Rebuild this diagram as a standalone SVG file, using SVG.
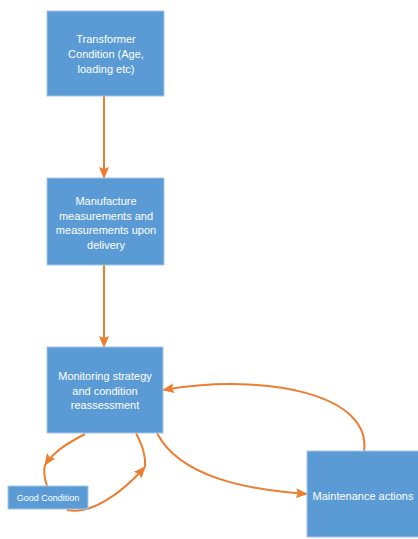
<svg xmlns="http://www.w3.org/2000/svg" width="418" height="539" viewBox="0 0 418 539">
<defs>
<marker id="ah" markerWidth="12" markerHeight="10" refX="11" refY="5" orient="auto" markerUnits="userSpaceOnUse">
<path d="M0,0 L12,5 L0,10 L2,5 Z" fill="#ED7D31"/>
</marker>
</defs>
<style>
.box{fill:#5B9BD5;stroke:#A8C5E6;stroke-width:1}
.t{font-family:"Liberation Sans",Arial,sans-serif;font-size:11px;fill:#ffffff;text-anchor:middle}
.c{fill:none;stroke:#ED7D31;stroke-width:2}
</style>
<rect width="418" height="539" fill="#ffffff"/>
<g id="connectors">
<path class="c" d="M104,96 L104,178" marker-end="url(#ah)"/>
<path class="c" d="M104,265 L104,347" marker-end="url(#ah)"/>
<path class="c" d="M157,433 C180,478 250,490 307,494" marker-end="url(#ah)"/>
<path class="c" d="M364,451 C372,396 270,372 163,390" marker-end="url(#ah)"/>
<path class="c" d="M85,434 C70,442 55,450 45,465" marker-end="url(#ah)"/>
<path class="c" d="M45,465 C43,472 45,480 47,486"/>
<path class="c" d="M67,510 C90,515 120,495 145,467" marker-end="url(#ah)"/>
<path class="c" d="M136,433 C142,445 146,455 145,467"/>
</g>
<g id="transformer">
<rect class="box" x="47" y="11" width="117" height="85"/>
<text class="t" x="106" y="43">Transformer</text>
<text class="t" x="106" y="58">Condition (Age,</text>
<text class="t" x="106" y="73">loading etc)</text>
</g>
<g id="manufacture">
<rect class="box" x="47" y="178" width="117" height="87"/>
<text class="t" x="106" y="205">Manufacture</text>
<text class="t" x="106" y="219.5">measurements and</text>
<text class="t" x="106" y="234">measurements upon</text>
<text class="t" x="106" y="248.5">delivery</text>
</g>
<g id="monitoring">
<rect class="box" x="47" y="347" width="116" height="86"/>
<text class="t" x="105" y="380">Monitoring strategy</text>
<text class="t" x="105" y="395">and condition</text>
<text class="t" x="105" y="409">reassessment</text>
</g>
<g id="good">
<rect class="box" x="8" y="486" width="80" height="23"/>
<text class="t" x="48" y="501" style="font-size:9px">Good Condition</text>
</g>
<g id="maintenance">
<rect class="box" x="307" y="451" width="112" height="86"/>
<text class="t" x="363" y="500">Maintenance actions</text>
</g>
</svg>
